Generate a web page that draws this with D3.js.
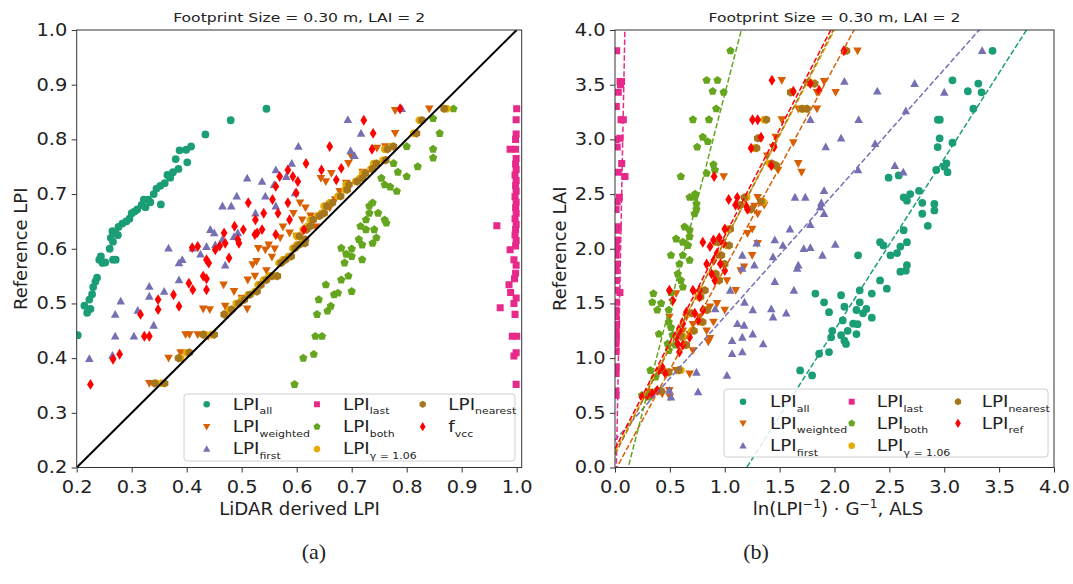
<!DOCTYPE html>
<html><head><meta charset="utf-8">
<script src="https://cdn.jsdelivr.net/npm/d3@7"></script>
<style>body{margin:0;background:#fff}svg{display:block}text{font-family:"DejaVu Sans",sans-serif;fill:#222}</style>
</head><body><script>
// ---------- DATA ----------
const seriesNames = ["all","weighted","first","last","both","gamma","nearest","ref"];
const seriesColors = ["#1b9e77","#d95f02","#7570b3","#e7298a","#66a61e","#e6ab02","#a6761d","#ff0000"];
const seriesMarkers = ["o","v","^","s","p","8","h","d"];
const leftLabels = [["LPI","all"],["LPI","weighted"],["LPI","first"],["LPI","last"],["LPI","both"],["LPI","\u03b3 = 1.06"],["LPI","nearest"],["f","vcc"]];
const rightLabels = [["LPI","all"],["LPI","weighted"],["LPI","first"],["LPI","last"],["LPI","both"],["LPI","\u03b3 = 1.06"],["LPI","nearest"],["LPI","ref"]];
const leftTicks = [0.2,0.3,0.4,0.5,0.6,0.7,0.8,0.9,1.0];
const rightTicks = [0,0.5,1,1.5,2,2.5,3,3.5,4];
const panelTitle = "Footprint Size = 0.30 m, LAI = 2";

// Left panel: [LiDAR derived LPI, Reference LPI]
const leftAll = [[0.202,0.442],[0.214,0.496],[0.219,0.483],[0.225,0.49],[0.223,0.507],[0.228,0.517],[0.23,0.53],[0.234,0.54],[0.237,0.547],[0.241,0.58],[0.247,0.574],[0.244,0.586],[0.26,0.60],[0.266,0.613],[0.271,0.58],[0.266,0.58],[0.252,0.575],[0.262,0.62],[0.27,0.63],[0.276,0.64],[0.283,0.646],[0.29,0.65],[0.296,0.655],[0.265,0.632],[0.275,0.625],[0.3,0.665],[0.305,0.668],[0.31,0.672],[0.318,0.68],[0.325,0.676],[0.33,0.69],[0.34,0.70],[0.345,0.71],[0.352,0.715],[0.36,0.72],[0.37,0.73],[0.365,0.735],[0.375,0.74],[0.353,0.681],[0.38,0.764],[0.385,0.746],[0.401,0.758],[0.387,0.78],[0.399,0.781],[0.408,0.787],[0.434,0.809],[0.48,0.835],[0.545,0.856],[0.322,0.69],[0.334,0.685]];
const leftWeighted = [[0.332,0.354],[0.34,0.354],[0.367,0.40],[0.389,0.41],[0.398,0.443],[0.405,0.443],[0.42,0.443],[0.439,0.44],[0.442,0.489],[0.467,0.534],[0.47,0.495],[0.475,0.48],[0.486,0.522],[0.50,0.51],[0.511,0.543],[0.524,0.55],[0.52,0.571],[0.527,0.577],[0.53,0.601],[0.543,0.598],[0.549,0.607],[0.56,0.60],[0.555,0.585],[0.545,0.56],[0.57,0.62],[0.587,0.629],[0.60,0.623],[0.594,0.665],[0.606,0.684],[0.616,0.675],[0.61,0.653],[0.625,0.66],[0.635,0.64],[0.644,0.729],[0.653,0.723],[0.663,0.738],[0.678,0.705],[0.67,0.69],[0.66,0.675],[0.69,0.72],[0.694,0.756],[0.70,0.768],[0.72,0.74],[0.746,0.784],[0.761,0.787],[0.779,0.811],[0.779,0.853],[0.841,0.856],[0.575,0.64],[0.51,0.49],[0.43,0.49]];
const leftFirst = [[0.223,0.399],[0.265,0.405],[0.27,0.44],[0.304,0.44],[0.27,0.48],[0.28,0.504],[0.311,0.487],[0.332,0.513],[0.332,0.531],[0.359,0.522],[0.367,0.601],[0.386,0.574],[0.386,0.543],[0.392,0.58],[0.411,0.601],[0.436,0.604],[0.452,0.607],[0.486,0.622],[0.443,0.635],[0.45,0.629],[0.465,0.617],[0.493,0.629],[0.465,0.678],[0.481,0.678],[0.491,0.696],[0.525,0.665],[0.51,0.729],[0.537,0.723],[0.559,0.717],[0.543,0.696],[0.562,0.678],[0.597,0.702],[0.562,0.744],[0.581,0.732],[0.591,0.756],[0.603,0.787],[0.698,0.779],[0.705,0.77],[0.717,0.811],[0.693,0.836],[0.791,0.856],[0.47,0.57],[0.425,0.59],[0.34,0.46]];
const leftLast = [[1.0,0.856],[0.999,0.836],[0.999,0.81],[0.998,0.80],[0.988,0.782],[0.998,0.782],[0.999,0.765],[0.998,0.755],[0.999,0.745],[0.997,0.735],[0.999,0.725],[0.998,0.715],[0.999,0.705],[0.997,0.695],[0.999,0.685],[0.998,0.675],[0.999,0.665],[0.997,0.655],[0.999,0.645],[0.964,0.642],[0.998,0.635],[0.997,0.625],[0.999,0.615],[0.998,0.605],[0.988,0.598],[0.995,0.58],[0.999,0.57],[0.998,0.555],[0.996,0.545],[0.986,0.534],[0.989,0.52],[0.995,0.50],[0.999,0.51],[0.97,0.492],[0.997,0.48],[0.992,0.44],[1.0,0.44],[0.995,0.404],[0.999,0.41],[0.999,0.352]];
const leftBoth = [[0.596,0.352],[0.612,0.40],[0.631,0.407],[0.634,0.44],[0.646,0.44],[0.637,0.48],[0.64,0.507],[0.653,0.534],[0.656,0.486],[0.662,0.495],[0.668,0.516],[0.675,0.519],[0.681,0.543],[0.694,0.55],[0.70,0.522],[0.687,0.574],[0.70,0.586],[0.681,0.601],[0.70,0.60],[0.69,0.59],[0.719,0.607],[0.738,0.61],[0.719,0.58],[0.745,0.62],[0.713,0.617],[0.741,0.635],[0.726,0.635],[0.716,0.641],[0.763,0.647],[0.726,0.653],[0.76,0.653],[0.748,0.665],[0.732,0.665],[0.732,0.678],[0.738,0.684],[0.782,0.705],[0.77,0.713],[0.76,0.717],[0.754,0.729],[0.80,0.732],[0.784,0.74],[0.82,0.75],[0.776,0.756],[0.848,0.766],[0.848,0.782],[0.80,0.787],[0.86,0.811],[0.848,0.838],[0.885,0.856]];
const leftGamma = [[0.345,0.354],[0.355,0.354],[0.389,0.40],[0.40,0.41],[0.433,0.443],[0.445,0.443],[0.47,0.48],[0.478,0.489],[0.49,0.50],[0.50,0.507],[0.512,0.516],[0.524,0.522],[0.53,0.534],[0.54,0.543],[0.55,0.55],[0.562,0.55],[0.568,0.574],[0.575,0.58],[0.585,0.586],[0.593,0.601],[0.60,0.607],[0.61,0.61],[0.612,0.617],[0.60,0.623],[0.612,0.635],[0.62,0.641],[0.625,0.653],[0.638,0.66],[0.645,0.665],[0.65,0.678],[0.66,0.684],[0.675,0.696],[0.688,0.708],[0.69,0.717],[0.707,0.723],[0.715,0.729],[0.72,0.738],[0.735,0.746],[0.74,0.756],[0.757,0.762],[0.76,0.782],[0.772,0.787],[0.813,0.811],[0.823,0.835],[0.873,0.856]];
const leftNearest = [[0.342,0.354],[0.36,0.354],[0.385,0.40],[0.405,0.41],[0.43,0.443],[0.45,0.443],[0.468,0.48],[0.482,0.489],[0.495,0.50],[0.505,0.507],[0.515,0.516],[0.528,0.522],[0.535,0.534],[0.545,0.543],[0.555,0.55],[0.565,0.55],[0.572,0.574],[0.58,0.58],[0.59,0.586],[0.597,0.601],[0.604,0.607],[0.615,0.61],[0.616,0.617],[0.605,0.623],[0.618,0.635],[0.625,0.641],[0.63,0.653],[0.642,0.66],[0.65,0.665],[0.655,0.678],[0.665,0.684],[0.68,0.696],[0.692,0.708],[0.695,0.717],[0.71,0.723],[0.72,0.729],[0.725,0.738],[0.738,0.746],[0.745,0.756],[0.762,0.762],[0.765,0.782],[0.776,0.787],[0.818,0.811],[0.828,0.835],[0.868,0.856]];
const leftFvcc = [[0.225,0.352],[0.266,0.398],[0.278,0.407],[0.316,0.48],[0.323,0.44],[0.332,0.44],[0.348,0.489],[0.348,0.507],[0.386,0.495],[0.376,0.516],[0.404,0.537],[0.411,0.525],[0.43,0.55],[0.436,0.545],[0.436,0.525],[0.42,0.604],[0.41,0.602],[0.436,0.58],[0.44,0.574],[0.452,0.598],[0.47,0.61],[0.477,0.583],[0.46,0.605],[0.495,0.61],[0.524,0.626],[0.468,0.629],[0.493,0.617],[0.487,0.641],[0.503,0.635],[0.537,0.635],[0.528,0.629],[0.562,0.626],[0.613,0.635],[0.525,0.653],[0.587,0.653],[0.54,0.665],[0.566,0.665],[0.512,0.684],[0.584,0.684],[0.556,0.69],[0.599,0.702],[0.562,0.714],[0.569,0.732],[0.593,0.732],[0.602,0.723],[0.672,0.726],[0.584,0.744],[0.645,0.744],[0.681,0.747],[0.617,0.756],[0.66,0.787],[0.737,0.782],[0.739,0.811],[0.722,0.835],[0.788,0.856]];

// Right panel: [ln(LPI^-1)·G^-1, Reference LAI]
const rightAll = [[3.44,3.81],[3.075,3.54],[3.31,3.51],[3.215,3.44],[3.34,3.43],[3.265,3.28],[2.942,3.18],[2.96,3.18],[3.075,2.97],[2.958,3.01],[2.94,2.93],[3.02,2.78],[3.0,2.75],[2.927,2.72],[3.03,2.70],[2.493,2.65],[2.585,2.67],[2.77,2.53],[2.69,2.50],[2.63,2.47],[2.66,2.44],[2.80,2.42],[2.91,2.41],[2.91,2.35],[2.80,2.32],[2.85,2.21],[2.63,2.17],[2.415,2.06],[2.446,2.03],[2.66,2.06],[2.6,2.02],[2.57,1.96],[2.51,1.94],[2.66,1.85],[2.65,1.80],[2.6,1.79],[2.415,1.71],[2.477,1.635],[2.215,1.94],[2.23,1.62],[2.34,1.59],[1.826,1.59],[2.06,1.575],[1.905,1.51],[2.23,1.51],[1.95,1.42],[2.09,1.47],[2.2,1.44],[2.29,1.45],[2.26,1.41],[2.34,1.37],[2.075,1.345],[2.17,1.315],[2.21,1.31],[2.12,1.25],[2.2,1.22],[1.98,1.25],[2.06,1.21],[2.09,1.16],[2.105,1.13],[1.97,1.19],[1.95,1.055],[1.86,1.04],[1.687,0.888],[1.796,0.842]];
const rightWeighted = [[2.21,3.81],[1.52,3.54],[1.905,3.53],[2.01,3.43],[1.84,3.43],[1.84,3.28],[1.67,3.28],[1.52,3.18],[1.625,2.97],[1.464,3.02],[1.44,2.93],[1.387,2.85],[1.67,2.78],[1.70,2.70],[1.486,2.72],[0.99,2.66],[1.30,2.47],[1.27,2.39],[1.36,2.40],[1.30,2.32],[1.207,2.14],[1.25,2.18],[1.30,2.05],[1.25,1.94],[1.176,1.835],[1.145,1.80],[1.02,1.71],[1.10,1.62],[1.0,1.44],[0.93,1.50],[0.866,1.47],[0.897,1.33],[0.835,1.25],[0.866,1.18],[0.85,1.15],[0.71,1.07],[0.71,1.31],[0.77,1.375],[0.65,1.375],[0.495,1.375],[0.525,1.51],[0.557,1.59],[0.68,1.22],[0.618,1.25],[0.68,0.857],[0.557,0.888],[0.495,0.873],[0.495,0.705],[0.31,0.69],[0.43,0.674],[0.5,0.644]];
const rightFirst = [[3.345,3.81],[3.0,3.43],[2.73,3.51],[2.39,3.44],[2.09,3.53],[2.22,3.18],[1.78,3.18],[2.06,3.01],[1.92,2.93],[2.37,2.96],[2.65,3.26],[2.55,2.76],[2.627,2.70],[2.215,2.72],[1.64,2.47],[1.734,2.47],[1.905,2.53],[1.88,2.42],[1.87,2.38],[1.905,2.32],[1.78,2.22],[1.594,2.18],[2.007,2.04],[1.456,2.08],[1.53,2.03],[1.29,2.05],[1.78,2.01],[1.72,2.0],[1.89,1.94],[1.16,1.94],[1.44,1.925],[1.67,1.85],[1.66,1.82],[1.16,1.82],[1.27,1.85],[1.456,1.70],[1.63,1.62],[1.05,1.62],[1.18,1.51],[1.255,1.44],[1.424,1.45],[1.44,1.375],[1.56,1.41],[0.913,1.45],[1.115,1.315],[1.176,1.30],[1.16,1.19],[1.255,1.22],[1.067,1.16],[1.35,1.13],[1.067,1.04],[1.16,1.056],[1.02,0.842],[0.742,0.87],[0.757,0.69],[0.51,0.644],[0.495,0.705]];
const rightLast = [[0.015,3.81],[0.046,3.53],[0.06,3.53],[0.03,3.43],[0.05,3.5],[0.076,3.18],[0.055,3.18],[0.046,3.01],[0.02,2.93],[0.061,2.78],[0.091,2.66],[0.03,2.7],[0.04,2.47],[0.02,2.43],[0.01,2.36],[0.03,2.2],[0.015,2.17],[0.02,2.08],[0.01,2.05],[0.015,2.0],[0.01,1.94],[0.02,1.86],[0.01,1.80],[0.015,1.71],[0.045,1.60],[0.01,1.62],[0.012,1.51],[0.008,1.44],[0.01,1.38],[0.015,1.31],[0.01,1.25],[0.012,1.19],[0.008,1.13],[0.01,1.06],[0.012,0.92],[0.01,0.86],[0.008,0.70],[0.01,0.66],[0.012,3.3],[0.01,3.0]];
const rightBoth = [[1.052,3.81],[0.835,3.54],[0.934,3.54],[0.89,3.44],[0.99,3.43],[0.922,3.28],[0.71,3.18],[0.856,3.18],[0.80,3.02],[0.749,2.93],[0.845,2.98],[0.897,2.77],[0.91,2.72],[0.60,2.66],[0.835,2.69],[0.68,2.47],[0.727,2.47],[0.73,2.50],[0.742,2.41],[0.742,2.36],[0.725,2.32],[0.634,2.20],[0.68,2.17],[0.68,2.11],[0.557,2.09],[0.618,2.06],[0.665,2.03],[0.51,1.94],[0.618,1.94],[0.68,1.895],[0.587,1.86],[0.572,1.77],[0.60,1.71],[0.618,1.65],[0.51,1.60],[0.35,1.59],[0.34,1.51],[0.385,1.44],[0.49,1.44],[0.42,1.50],[0.49,1.33],[0.51,1.28],[0.525,1.21],[0.40,1.22],[0.48,1.13],[0.55,1.12],[0.49,1.07],[0.618,1.19],[0.323,0.888],[0.37,0.827],[0.43,0.888],[0.246,0.66],[0.31,0.644],[0.385,0.705]];
const rightGamma = [[0.30,0.66],[0.40,0.70],[0.47,0.87],[0.60,0.89],[0.63,1.12],[0.62,1.20],[0.70,1.25],[0.78,1.33],[0.68,1.41],[0.82,1.44],[0.76,1.56],[0.80,1.62],[0.93,1.71],[0.90,1.77],[0.98,1.86],[0.95,1.94],[1.02,2.03],[0.92,2.06],[1.03,2.18],[1.12,2.40],[1.20,2.47],[1.22,2.36],[1.35,2.43],[1.41,2.78],[1.45,2.76],[1.27,2.92],[1.32,3.01],[1.36,3.18],[1.61,3.43],[1.70,3.28],[1.73,3.28],[1.777,3.52],[1.80,3.51],[2.10,3.81]];
const rightNearest = [[0.32,0.66],[0.42,0.70],[0.49,0.87],[0.58,0.89],[0.65,1.12],[0.60,1.20],[0.72,1.25],[0.80,1.33],[0.70,1.41],[0.84,1.44],[0.78,1.56],[0.82,1.62],[0.95,1.71],[0.92,1.77],[1.0,1.86],[0.97,1.94],[1.04,2.03],[0.94,2.06],[1.05,2.18],[1.14,2.40],[1.18,2.47],[1.24,2.36],[1.33,2.43],[1.43,2.78],[1.47,2.76],[1.29,2.92],[1.30,3.01],[1.38,3.18],[1.60,3.43],[1.705,3.28],[1.75,3.28],[1.76,3.52],[1.82,3.51],[2.11,3.81]];
const rightRef = [[2.085,3.81],[1.43,3.54],[1.625,3.44],[1.78,3.51],[1.86,3.45],[1.253,3.18],[1.30,3.18],[1.33,3.02],[1.24,2.92],[1.45,2.93],[1.424,2.76],[0.903,2.66],[1.114,2.47],[1.036,2.45],[1.098,2.40],[1.19,2.40],[1.207,2.36],[1.0,2.18],[0.95,2.10],[0.99,2.05],[0.80,2.06],[0.897,2.08],[0.866,2.02],[0.93,1.96],[0.90,1.895],[0.96,1.86],[1.0,1.80],[0.835,1.86],[0.88,1.77],[0.91,1.71],[0.77,1.62],[0.71,1.62],[0.495,1.62],[0.525,1.53],[0.77,1.56],[0.80,1.44],[0.727,1.41],[0.65,1.42],[0.757,1.345],[0.618,1.315],[0.587,1.25],[0.68,1.19],[0.557,1.19],[0.572,1.13],[0.618,1.12],[0.587,1.055],[0.43,0.918],[0.46,0.857],[0.40,0.888],[0.34,0.674],[0.29,0.66],[0.385,0.705],[0.246,0.644]];

// Linear fits shown as dashed lines in the right panel (slope, intercept)
const fitSlope     = [1.569, 1.85, 1.13, 51.3, 3.88, 1.93, 1.95, 1.948];
const fitIntercept = [-1.883, -0.03, 0.25, -0.615, -0.466, 0.14, 0.12, 0.17];

// ---------- DRAWING ----------
const W = 1073, H = 584;
const svg = d3.select("body").append("svg").attr("width", W).attr("height", H);

// horizontal glyph stretch (the reference text is wider than DejaVu at its height)
function stretch(sel, sx) {
  sel.each(function () {
    const t = d3.select(this);
    const x = +t.attr("x") || 0;
    const tr = t.attr("transform") || "";
    t.attr("x", x / sx).attr("transform", (tr ? tr + " " : "") + `scale(${sx},1)`);
  });
}

function markerPath(t, r) {
  const poly = (n, rot, rr, sx = 1) => {
    const p = [];
    for (let i = 0; i < n; i++) { const a = rot + 2 * Math.PI * i / n; p.push([sx * rr * Math.sin(a), -rr * Math.cos(a)]); }
    return "M" + p.map(q => q[0].toFixed(2) + "," + q[1].toFixed(2)).join("L") + "Z";
  };
  switch (t) {
    case "o": return `M${r},0A${r},${r} 0 1,1 ${-r},0A${r},${r} 0 1,1 ${r},0Z`;
    case "^": return `M0,${-r * 1.15}L${r * 1.1},${r * 0.85}L${-r * 1.1},${r * 0.85}Z`;
    case "v": return `M0,${r * 1.15}L${r * 1.1},${-r * 0.85}L${-r * 1.1},${-r * 0.85}Z`;
    case "s": { const s = r * 0.9; return `M${-s},${-s}H${s}V${s}H${-s}Z`; }
    case "p": return poly(5, 0, r * 1.12);
    case "h": return poly(6, 0, r * 1.1);
    case "8": return poly(8, Math.PI / 8, r * 1.05);
    case "d": return poly(4, 0, r * 1.4, 0.62);
  }
}

function subLabel(g, x, y, parts, big, small) {
  const t = g.append("text").attr("x", x).attr("y", y).style("font-size", big + "px");
  t.append("tspan").text(parts[0]);
  t.append("tspan").attr("dy", 4.5).style("font-size", small + "px").text(parts[1]);
  return t;
}

function panel(cfg) {
  const x = d3.scaleLinear().domain(cfg.xDomain).range([cfg.left, cfg.right]);
  const y = d3.scaleLinear().domain(cfg.yDomain).range([cfg.bottom, cfg.top]);
  const g = svg.append("g");
  const clipId = "clip" + cfg.id;
  svg.append("clipPath").attr("id", clipId).append("rect")
    .attr("x", cfg.left).attr("y", cfg.top).attr("width", cfg.right - cfg.left).attr("height", cfg.bottom - cfg.top);

  // points
  const pts = g.append("g").attr("clip-path", `url(#${clipId})`);
  cfg.series.forEach((data, i) => {
    pts.append("g").selectAll("path").data(data).join("path")
      .attr("d", markerPath(seriesMarkers[i], 3.9))
      .attr("transform", d => `translate(${x(d[0])},${y(d[1])})`)
      .attr("fill", seriesColors[i]);
  });

  // lines
  const lines = g.append("g").attr("clip-path", `url(#${clipId})`);
  if (cfg.diagonal) {
    lines.append("line").attr("x1", x(0.2)).attr("y1", y(0.2)).attr("x2", x(1.0)).attr("y2", y(1.0))
      .attr("stroke", "#000").attr("stroke-width", 2);
  }
  if (cfg.fits) {
    const xs = [cfg.xDomain[0], cfg.xDomain[1]];
    fitSlope.forEach((m, i) => {
      const b = fitIntercept[i];
      lines.append("line")
        .attr("x1", x(xs[0])).attr("y1", y(m * xs[0] + b))
        .attr("x2", x(xs[1])).attr("y2", y(m * xs[1] + b))
        .attr("stroke", seriesColors[i]).attr("stroke-width", 1.5)
        .attr("stroke-dasharray", "5.5,2.4");
    });
  }

  // frame
  g.append("rect").attr("x", cfg.left).attr("y", cfg.top)
    .attr("width", cfg.right - cfg.left).attr("height", cfg.bottom - cfg.top)
    .attr("fill", "none").attr("stroke", "#333").attr("stroke-width", 1);

  // axes
  const fmt = d3.format(".1f");
  const ax = g.append("g").attr("transform", `translate(0,${cfg.bottom})`)
    .call(d3.axisBottom(x).tickValues(cfg.ticks).tickFormat(fmt).tickSize(5).tickPadding(8.5));
  const ay = g.append("g").attr("transform", `translate(${cfg.left},0)`)
    .call(d3.axisLeft(y).tickValues(cfg.ticks).tickFormat(fmt).tickSize(5).tickPadding(4.5));
  [ax, ay].forEach(a => {
    a.select(".domain").remove();
    a.selectAll(".tick line").attr("stroke", "#333");
    a.selectAll(".tick text").style("font-size", "17px").style("font-family", "DejaVu Sans").attr("fill", "#222");
    stretch(a.selectAll(".tick text"), 1.14);
  });

  // title
  stretch(g.append("text").attr("x", (cfg.left + cfg.right) / 2).attr("y", 22.5)
    .attr("text-anchor", "middle").style("font-size", "13px").text(panelTitle), 1.2);

  // y label
  g.append("text").attr("transform", `translate(${cfg.yLabelX},${(cfg.top + cfg.bottom) / 2}) rotate(-90)`)
    .attr("text-anchor", "middle").style("font-size", "18px").text(cfg.yLabel);

  // x label
  const xl = g.append("text").attr("x", cfg.xLabelX).attr("y", 515)
    .attr("text-anchor", "middle").style("font-size", "17px");
  cfg.xLabel(xl);
  stretch(xl, 1.07);

  // legend
  const L = cfg.legend;
  const lg = g.append("g");
  lg.append("rect").attr("x", L.x0).attr("y", L.y0).attr("width", L.x1 - L.x0).attr("height", L.y1 - L.y0)
    .attr("rx", 3).attr("fill", "#fff").attr("fill-opacity", 0.85).attr("stroke", "#d0d0d0");
  cfg.labels.forEach((lab, i) => {
    const col = Math.floor(i / 3), row = i % 3;
    const cy = L.rows[row];
    lg.append("path").attr("d", markerPath(seriesMarkers[i], 3.3))
      .attr("transform", `translate(${L.mx[col]},${cy})`).attr("fill", seriesColors[i]);
    stretch(subLabel(lg, L.tx[col], cy + 5.5, lab, 16, 9.5), 1.15);
  });
}

panel({
  id: "L", xDomain: [0.2, 1.0091], yDomain: [0.2, 1.0], left: 76.7, right: 521.7, top: 30, bottom: 467.5,
  ticks: leftTicks, diagonal: true, fits: false,
  series: [leftAll, leftWeighted, leftFirst, leftLast, leftBoth, leftGamma, leftNearest, leftFvcc],
  yLabel: "Reference LPI", yLabelX: 26.5, xLabelX: 299.5,
  xLabel: t => t.text("LiDAR derived LPI"),
  labels: leftLabels,
  legend: { x0: 184, x1: 515, y0: 394, y1: 461, rows: [404.3, 426.7, 449], mx: [206.7, 317, 422.7], tx: [232.7, 343, 448.3] }
});

panel({
  id: "R", xDomain: [0, 4], yDomain: [0, 4], left: 615, right: 1054, top: 30, bottom: 467.5,
  ticks: rightTicks, diagonal: false, fits: true,
  series: [rightAll, rightWeighted, rightFirst, rightLast, rightBoth, rightGamma, rightNearest, rightRef],
  yLabel: "Reference LAI", yLabelX: 565.5, xLabelX: 838,
  xLabel: t => {
    t.append("tspan").text("ln(LPI");
    t.append("tspan").attr("dy", -7).style("font-size", "11.5px").text("\u22121");
    t.append("tspan").attr("dy", 7).text(") \u00b7 G");
    t.append("tspan").attr("dy", -7).style("font-size", "11.5px").text("\u22121");
    t.append("tspan").attr("dy", 7).text(", ALS");
  },
  labels: rightLabels,
  legend: { x0: 724, x1: 1048, y0: 389, y1: 457, rows: [401.7, 423.3, 445.7], mx: [743, 851.7, 958], tx: [770, 876.7, 981.7] }
});

// captions
svg.append("text").attr("x", 314).attr("y", 559).attr("text-anchor", "middle")
  .style("font-family", "'Liberation Serif', serif").style("font-size", "22px").text("(a)");
svg.append("text").attr("x", 756).attr("y", 559).attr("text-anchor", "middle")
  .style("font-family", "'Liberation Serif', serif").style("font-size", "22px").text("(b)");
</script></body></html>
